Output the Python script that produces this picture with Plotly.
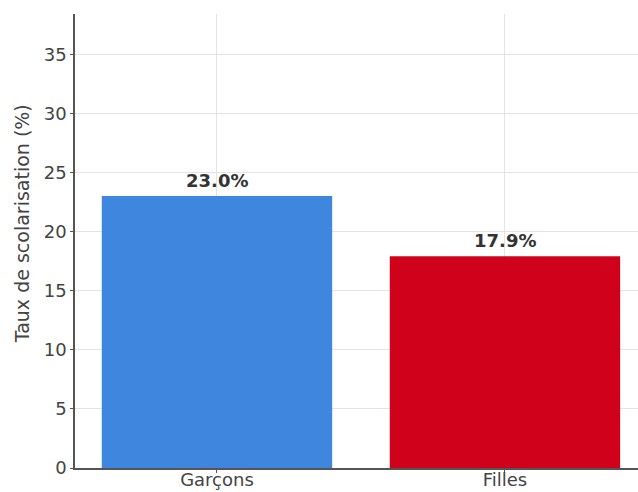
import plotly.graph_objects as go

categories = ["Garçons", "Filles"]
values = [23.0, 17.9]
labels = ["23.0%", "17.9%"]
colors = ["#3f87de", "#d0021b"]
y_title = "Taux de scolarisation (%)"

fig = go.Figure()
fig.add_trace(go.Bar(
    x=categories, y=values, width=0.8,
    marker=dict(color=colors, line=dict(width=0)),
    showlegend=False,
))
for c, v, t in zip(categories, values, labels):
    fig.add_annotation(x=c, y=v, text="<b>%s</b>" % t, showarrow=False,
                       yanchor="bottom", yshift=3,
                       font=dict(family="DejaVu Sans", size=18, color="#333333"))

# y-axis title placed as a rotated annotation
fig.add_annotation(xref="paper", yref="paper", x=-0.094, y=0.537,
                   text=y_title, textangle=-90, showarrow=False,
                   xanchor="center", yanchor="middle",
                   font=dict(family="DejaVu Sans", size=19, color="#444444"))

fig.update_layout(
    width=638, height=492,
    margin=dict(l=75, r=0, t=14, b=24),
    paper_bgcolor="white", plot_bgcolor="white",
    font=dict(family="DejaVu Sans", size=18, color="#444444"),
)
fig.update_xaxes(
    range=[-0.493, 1.462],
    showgrid=True, gridcolor="#e3e3e3", gridwidth=1,
    showline=True, linecolor="#555555", linewidth=1.5,
    ticks="outside", ticklen=3, tickcolor="#555555",
    tickfont=dict(size=18, color="#444444"),
    ticklabelstandoff=-8,
    zeroline=False, automargin=False,
)
fig.update_yaxes(
    range=[0, 38.4],
    tickvals=[0, 5, 10, 15, 20, 25, 30, 35],
    showgrid=True, gridcolor="#e3e3e3", gridwidth=1,
    showline=True, linecolor="#555555", linewidth=1.5,
    ticks="outside", ticklen=3, tickcolor="#555555",
    tickfont=dict(size=18, color="#444444"),
    zeroline=False, automargin=False,
)
fig.write_html("out.html",
               config={"displayModeBar": False},
               post_script="document.body.style.margin='0';document.body.style.overflow='hidden';")
